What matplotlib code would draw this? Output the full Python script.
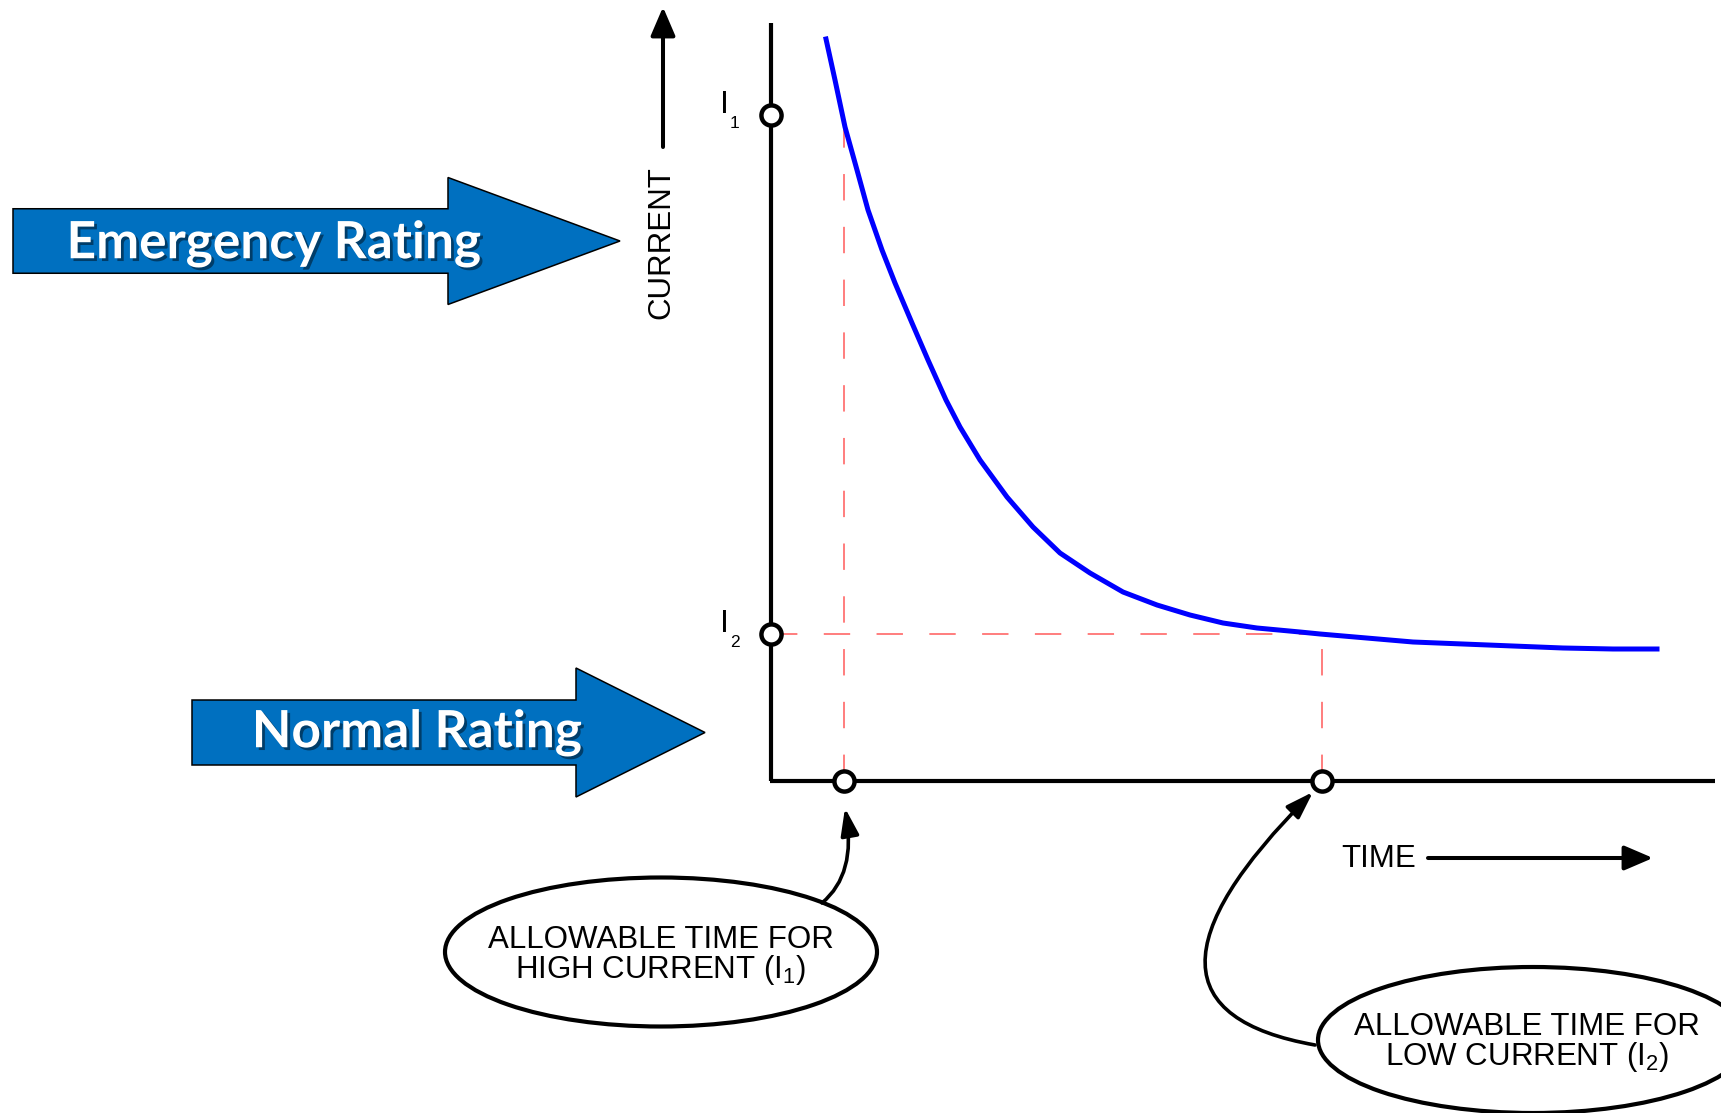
import numpy as np
import matplotlib
matplotlib.use("Agg")
from matplotlib import pyplot as plt
from matplotlib import patches
import matplotlib.patheffects as pe

plt.rcParams['font.family'] = ['Liberation Sans', 'DejaVu Sans']
plt.rcParams['mathtext.default'] = 'regular'
plt.rcParams['lines.scale_dashes'] = False

# time / current curve (1 unit ~ 100 px)
time = [0.55, 0.64, 0.74, 0.86, 0.97, 1.11, 1.24, 1.41, 1.57, 1.75, 1.89, 2.09,
        2.36, 2.62, 2.89, 3.19, 3.52, 3.86, 4.19, 4.52, 4.86, 5.29, 5.49, 6.42,
        6.92, 7.42, 7.92, 8.42, 8.86]
current = [7.42, 7.01, 6.54, 6.11, 5.71, 5.31, 4.98, 4.58, 4.21, 3.81, 3.54, 3.21,
           2.84, 2.54, 2.28, 2.08, 1.89, 1.76, 1.66, 1.58, 1.53, 1.49, 1.47, 1.39,
           1.37, 1.35, 1.33, 1.32, 1.32]

# the two operating points
t_high, t_low = 0.73, 5.51
i_high, i_low = 6.66, 1.47

labels_sub = ['1', '2']
note_high = 'ALLOWABLE TIME FOR\nHIGH CURRENT (I$_{1}$)'
note_low = 'ALLOWABLE TIME FOR\nLOW CURRENT (I$_{2}$)'
rating_labels = ['Emergency Rating', 'Normal Rating']

BLUE = '#0070C0'
RED = '#ff5a5a'

fig = plt.figure(figsize=(17.21, 11.13), dpi=100)
ax = fig.add_axes([0, 0, 1, 1])
ax.set_xlim(-7.71, 9.50)
ax.set_ylim(-3.32, 7.81)
ax.axis('off')

# axes of the diagram
ax.plot([0, 0], [0, 7.58], color='k', lw=3.0, solid_capstyle='butt', zorder=3)
ax.plot([-0.015, 9.44], [0, 0], color='k', lw=3.0, solid_capstyle='butt', zorder=3)

# the curve
ax.plot(time, current, color='#0000ff', lw=3.6, zorder=4)

# dashed guides up to the curve
dash = (0, (19, 19))
ax.plot([t_high, t_high], [0, np.interp(t_high, time, current)], color=RED, lw=1.1,
        ls=dash, zorder=2)
ax.plot([0, t_low], [i_low, i_low], color=RED, lw=1.1, ls=dash, zorder=2)
ax.plot([t_low, t_low], [0, i_low], color=RED, lw=1.1, ls=dash, zorder=2)

# open circle markers
ax.plot([0, 0, t_high, t_low], [i_high, i_low, 0, 0], ls='none', marker='o', ms=14.5,
        mfc='white', mec='k', mew=3.2, zorder=5)

for sub, yv in zip(labels_sub, [i_high, i_low]):
    ax.text(-0.465, yv + 0.02, 'I', fontsize=23, ha='center', va='baseline')
    ax.text(-0.41, yv - 0.01, sub, fontsize=12.5, ha='left', va='top')

# axis titles with arrows
ax.text(-1.10, 5.38, 'CURRENT', fontsize=22.5, rotation=90, ha='center', va='center')
ax.annotate('', xy=(-1.08, 7.74), xytext=(-1.08, 6.34),
            arrowprops=dict(arrowstyle='-|>,head_length=0.7,head_width=0.3', color='k',
                            lw=2.9, mutation_scale=25, shrinkA=0, shrinkB=0))
ax.text(6.08, -0.78, 'TIME', fontsize=22.5, ha='center', va='center')
ax.annotate('', xy=(8.82, -0.77), xytext=(6.57, -0.77),
            arrowprops=dict(arrowstyle='-|>,head_length=0.7,head_width=0.3', color='k',
                            lw=2.9, mutation_scale=25, shrinkA=0, shrinkB=0))

# callout ellipses
ax.add_patch(patches.Ellipse((-1.10, -1.71), 4.32, 1.49, fc='white', ec='k', lw=3, zorder=3))
ax.text(-1.10, -1.75, note_high, fontsize=22.5, ha='center', va='center',
        linespacing=0.95, zorder=4)
ax.add_patch(patches.Ellipse((7.62, -2.59), 4.30, 1.46, fc='white', ec='k', lw=3, zorder=3))
ax.text(7.56, -2.62, note_low, fontsize=22.5, ha='center', va='center',
        linespacing=0.95, zorder=4)

head = dict(arrowstyle='-|>,head_length=0.75,head_width=0.25', color='k', lw=2.6,
            mutation_scale=22, shrinkA=0, shrinkB=0)
ax.annotate('', xy=(t_high + 0.01, -0.27), xytext=(0.51, -1.22),
            arrowprops=dict(connectionstyle='angle3,angleA=40,angleB=100', **head))
ax.annotate('', xy=(t_low - 0.09, -0.11), xytext=(5.44, -2.64),
            arrowprops=dict(connectionstyle='angle3,angleA=170,angleB=45', **head))

# rating arrows
ax.add_patch(patches.FancyArrow(-7.58, 5.40, 6.07, 0, width=0.645, head_width=1.27,
                                head_length=1.72, length_includes_head=True,
                                fc=BLUE, ec='k', lw=1.1, zorder=3))
ax.add_patch(patches.FancyArrow(-5.79, 0.485, 5.13, 0, width=0.65, head_width=1.29,
                                head_length=1.29, length_includes_head=True,
                                fc=BLUE, ec='k', lw=1.1, zorder=3))
shadow = [pe.SimplePatchShadow(offset=(2, -2), shadow_rgbFace='k', alpha=0.45), pe.Normal()]
for lab, xy in zip(rating_labels, [(-4.97, 5.37), (-3.54, 0.48)]):
    ax.text(xy[0], xy[1], lab, family=['Lato', 'DejaVu Sans'], fontweight='bold',
            fontsize=37, color='white', ha='center', va='center', zorder=4,
            path_effects=shadow)

fig.savefig('out.png', dpi=100)
